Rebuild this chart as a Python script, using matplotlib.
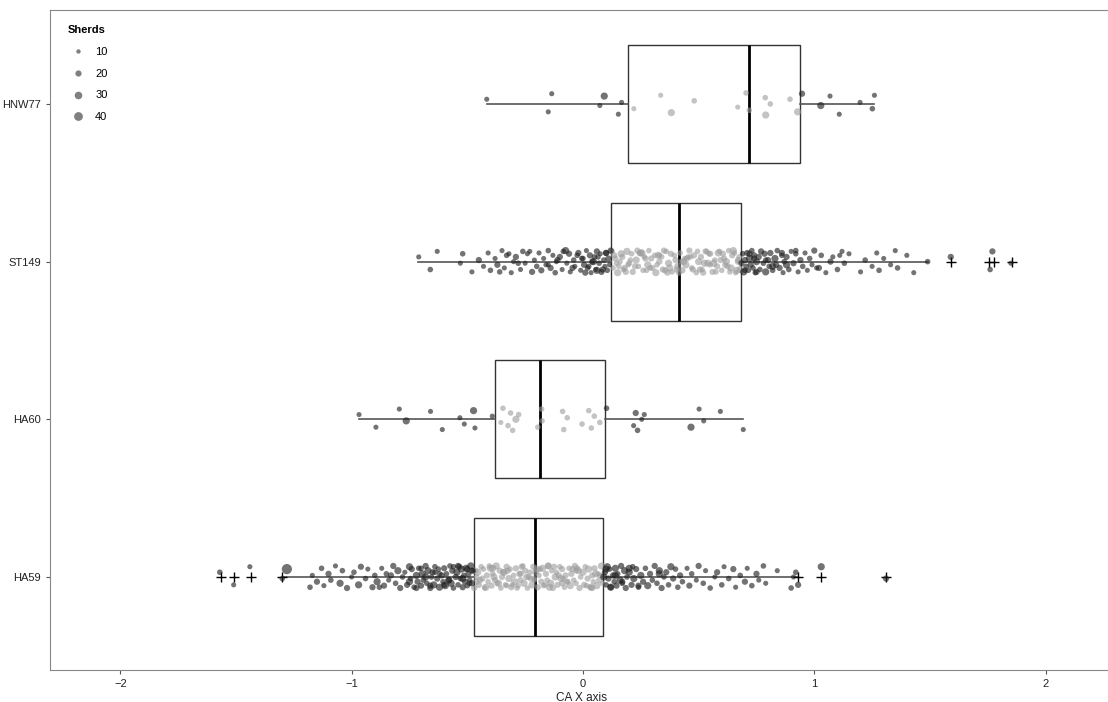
import numpy as np
import matplotlib.pyplot as plt
from matplotlib.lines import Line2D

plt.rcParams['font.family'] = ['Liberation Sans', 'DejaVu Sans']

# Sites (bottom to top)
sites = ['HA59', 'HA60', 'ST149', 'HNW77']

# Box statistics (CA X axis)
q1 = [-0.471, -0.380, 0.121, 0.195]
med = [-0.208, -0.186, 0.415, 0.718]
q3 = [0.086, 0.095, 0.683, 0.938]
whislo = [-1.295, -0.968, -0.713, -0.415]
whishi = [0.925, 0.692, 1.492, 1.258]
fliers = [[-1.565, -1.51, -1.435, -1.30, 0.93, 1.03, 1.31],
          [],
          [1.59, 1.755, 1.775, 1.855],
          []]

# Jittered observations: CA X value and number of sherds
hnw77_x = [-0.416, -0.15, -0.135, 0.073, 0.092, 0.153, 0.167, 0.220, 0.336, 0.382,
           0.481, 0.669, 0.705, 0.719, 0.788, 0.79, 0.810, 0.895, 0.928, 0.947,
           1.028, 1.068, 1.108, 1.198, 1.251, 1.260]
hnw77_n = [10, 10, 10, 10, 20, 10, 10, 10, 10, 20,
           12, 10, 12, 12, 12, 20, 12, 12, 20, 15,
           20, 10, 10, 10, 12, 10]

ha60_x = [-0.968, -0.895, -0.794, -0.764, -0.659, -0.608, -0.532, -0.513, -0.473, -0.467,
          -0.392, -0.355, -0.346, -0.324, -0.313, -0.304, -0.290, -0.278, -0.195, -0.179,
          -0.177, -0.088, -0.083, -0.068, -0.004, 0.025, 0.036, 0.049, 0.073, 0.102,
          0.219, 0.228, 0.236, 0.254, 0.265, 0.467, 0.502, 0.522, 0.594, 0.693]
ha60_n = [10, 10, 10, 20, 10, 10, 10, 10, 20, 10,
          10, 10, 12, 12, 12, 12, 20, 12, 12, 12,
          12, 12, 12, 12, 12, 12, 12, 12, 12, 12,
          10, 15, 12, 10, 10, 20, 10, 10, 10, 10]

st149_x = [-0.71, -0.66, -0.63, -0.53, -0.52, -0.48, -0.45, -0.43, -0.41, -0.40,
           -0.38, -0.37, -0.35, -0.34, -0.33, -0.31, -0.30, -0.29, -0.27, -0.26,
           -0.25, -0.24, -0.22, -0.21, -0.20, -0.19, -0.18, -0.17, -0.16, -0.15,
           -0.14, -0.13, -0.12, -0.115, -0.10, -0.09, -0.085, -0.07, -0.06, -0.055,
           -0.04, -0.035, -0.02, -0.01, 0.0, 0.005, 0.015, 0.02, 0.03, 0.035,
           0.04, 0.05, 0.055, 0.06, 0.07, 0.075, 0.08, 0.09, 0.095, 0.10,
           0.105, 0.11, 0.115, -0.075, -0.045, -0.025, 0.01, 0.045, 0.065, 0.085,
           -0.23, -0.28, -0.32, -0.36, -0.11, 0.025, 0.1, 0.06, -0.005, -0.15,
           0.12, 0.13, 0.135, 0.15, 0.16, 0.17, 0.175, 0.19, 0.20, 0.21,
           0.215, 0.23, 0.24, 0.245, 0.26, 0.27, 0.28, 0.285, 0.30, 0.31,
           0.315, 0.33, 0.34, 0.345, 0.36, 0.37, 0.38, 0.385, 0.40, 0.41,
           0.42, 0.43, 0.44, 0.445, 0.46, 0.47, 0.48, 0.49, 0.50, 0.51,
           0.515, 0.53, 0.54, 0.545, 0.56, 0.57, 0.58, 0.585, 0.60, 0.61,
           0.615, 0.63, 0.64, 0.645, 0.66, 0.67, 0.675, 0.68, 0.125, 0.145,
           0.165, 0.185, 0.205, 0.225, 0.255, 0.275, 0.295, 0.32, 0.35, 0.375,
           0.395, 0.415, 0.435, 0.455, 0.475, 0.495, 0.525, 0.55, 0.575, 0.595,
           0.625, 0.655, 0.665, 0.14, 0.195, 0.235, 0.29, 0.325, 0.365, 0.425,
           0.465, 0.505, 0.535, 0.565, 0.605, 0.635, 0.67, 0.155, 0.25, 0.355,
           0.45, 0.55, 0.65, 0.18, 0.33, 0.52, 0.62, 0.265, 0.405, 0.59,
           0.685, 0.69, 0.695, 0.70, 0.705, 0.71, 0.715, 0.72, 0.725, 0.73,
           0.735, 0.74, 0.745, 0.75, 0.76, 0.765, 0.77, 0.78, 0.785, 0.79,
           0.80, 0.805, 0.81, 0.82, 0.83, 0.835, 0.84, 0.85, 0.86, 0.865,
           0.87, 0.88, 0.89, 0.90, 0.91, 0.92, 0.93, 0.94, 0.95, 0.96,
           0.97, 0.98, 0.99, 1.00, 1.01, 1.03, 1.05, 1.07, 1.08, 1.10,
           1.12, 1.13, 1.15, 1.20, 1.22, 1.25, 1.27, 1.28, 1.30, 1.33,
           1.35, 1.36, 1.40, 1.43, 1.49, 1.59, 1.76, 1.77, 1.85, 0.72,
           0.75, 0.79, 0.82, 0.86, 0.70, 0.74, 0.88, 0.92, 1.02, 1.11]
st149_n = [10, 12, 10, 10, 12, 10, 15, 10, 10, 12,
           10, 15, 10, 10, 12, 10, 10, 15, 10, 12,
           10, 10, 15, 10, 12, 10, 15, 10, 10, 12,
           15, 10, 12, 10, 15, 10, 12, 10, 15, 10,
           12, 10, 15, 10, 12, 15, 10, 12, 15, 10,
           15, 12, 10, 15, 12, 10, 15, 12, 10, 15,
           12, 15, 10, 20, 15, 12, 15, 20, 12, 15,
           10, 12, 10, 12, 15, 12, 15, 20, 12, 10,
           15, 12, 15, 20, 12, 15, 12, 20, 15, 12,
           15, 20, 12, 15, 12, 15, 20, 12, 15, 12,
           20, 15, 12, 15, 12, 20, 15, 12, 15, 20,
           12, 15, 12, 20, 15, 12, 15, 12, 20, 15,
           12, 15, 20, 12, 15, 12, 15, 20, 12, 15,
           15, 12, 20, 15, 12, 15, 12, 20, 15, 12,
           20, 15, 12, 15, 20, 12, 15, 12, 15, 20,
           12, 15, 20, 12, 15, 12, 20, 15, 12, 15,
           15, 12, 20, 15, 12, 15, 12, 20, 15, 12,
           12, 15, 12, 20, 15, 12, 15, 12, 20, 15,
           15, 12, 20, 15, 12, 15, 20, 12, 15, 12,
           15, 12, 20, 15, 12, 15, 12, 20, 15, 12,
           12, 15, 12, 20, 15, 12, 15, 12, 15, 20,
           15, 12, 15, 12, 20, 15, 12, 15, 12, 10,
           12, 15, 12, 10, 15, 12, 10, 15, 12, 10,
           10, 12, 10, 15, 10, 12, 10, 15, 10, 12,
           10, 12, 10, 10, 12, 10, 10, 12, 10, 10,
           10, 12, 10, 10, 12, 15, 12, 15, 10, 15,
           15, 12, 20, 15, 12, 15, 20, 12, 15, 10]

ha59_x = [-1.57, -1.51, -1.44, -1.30, -1.28, -1.18, -1.17, -1.15, -1.13, -1.12,
          -1.10, -1.09, -1.07, -1.05, -1.04, -1.02, -1.00, -0.99, -0.97, -0.96,
          -0.94, -0.93, -0.91, -0.90, -0.89, -0.87, -0.86, -0.85, -0.84, -0.82,
          -0.81, -0.80, -0.79, -0.78, -0.77, -0.76, -0.75, -0.745, -0.74, -0.73,
          -0.72, -0.715, -0.71, -0.70, -0.695, -0.69, -0.68, -0.675, -0.67, -0.66,
          -0.655, -0.65, -0.645, -0.64, -0.63, -0.625, -0.62, -0.61, -0.605, -0.60,
          -0.595, -0.59, -0.58, -0.575, -0.57, -0.565, -0.56, -0.55, -0.545, -0.54,
          -0.535, -0.53, -0.525, -0.52, -0.515, -0.51, -0.505, -0.50, -0.495, -0.49,
          -0.485, -0.48, -0.475, -0.72, -0.68, -0.64, -0.60, -0.56, -0.52, -0.50,
          -0.88, -0.83, -0.75, -0.70, -0.66, -0.62, -0.58, -0.54, -0.49, -0.48,
          -0.47, -0.46, -0.455, -0.45, -0.44, -0.435, -0.43, -0.42, -0.415, -0.41,
          -0.40, -0.395, -0.39, -0.38, -0.375, -0.37, -0.36, -0.355, -0.35, -0.34,
          -0.335, -0.33, -0.32, -0.315, -0.31, -0.30, -0.295, -0.29, -0.28, -0.275,
          -0.27, -0.26, -0.255, -0.25, -0.24, -0.235, -0.23, -0.22, -0.215, -0.21,
          -0.20, -0.195, -0.19, -0.18, -0.175, -0.17, -0.16, -0.155, -0.15, -0.14,
          -0.135, -0.13, -0.12, -0.115, -0.11, -0.10, -0.095, -0.09, -0.08, -0.075,
          -0.07, -0.06, -0.055, -0.05, -0.04, -0.035, -0.03, -0.02, -0.015, -0.01,
          0.0, 0.005, 0.01, 0.02, 0.025, 0.03, 0.04, 0.045, 0.05, 0.06,
          0.065, 0.07, 0.08, 0.085, -0.465, -0.425, -0.385, -0.345, -0.305, -0.265,
          -0.225, -0.185, -0.145, -0.105, -0.065, -0.025, 0.015, 0.055, -0.445, -0.405,
          -0.365, -0.325, -0.285, -0.245, -0.205, -0.165, -0.125, -0.085, -0.045, 0.035,
          0.075, -0.46, -0.39, -0.33, -0.27, -0.21, -0.15, -0.09, -0.03, 0.04,
          0.09, 0.095, 0.10, 0.105, 0.11, 0.115, 0.12, 0.13, 0.135, 0.14,
          0.145, 0.15, 0.16, 0.165, 0.17, 0.18, 0.185, 0.19, 0.20, 0.21,
          0.215, 0.22, 0.23, 0.24, 0.25, 0.26, 0.27, 0.28, 0.29, 0.30,
          0.31, 0.32, 0.33, 0.34, 0.35, 0.36, 0.37, 0.38, 0.39, 0.40,
          0.41, 0.42, 0.43, 0.45, 0.46, 0.47, 0.49, 0.50, 0.52, 0.53,
          0.55, 0.57, 0.58, 0.60, 0.61, 0.63, 0.65, 0.66, 0.68, 0.70,
          0.71, 0.73, 0.75, 0.76, 0.78, 0.79, 0.84, 0.90, 0.91, 0.92,
          0.93, 1.03, 1.31, 0.10, 0.12, 0.14, 0.17, 0.20, 0.24, 0.33]
ha59_n = [12, 10, 10, 12, 40, 12, 10, 15, 12, 10,
          15, 12, 10, 20, 12, 15, 10, 12, 20, 15,
          12, 10, 15, 12, 20, 10, 15, 12, 10, 15,
          12, 20, 15, 12, 10, 15, 20, 12, 15, 12,
          20, 15, 12, 15, 20, 12, 15, 12, 20, 15,
          12, 15, 20, 12, 15, 12, 20, 15, 12, 15,
          20, 12, 15, 12, 20, 15, 12, 15, 20, 12,
          15, 12, 20, 15, 12, 15, 20, 12, 15, 12,
          20, 15, 12, 15, 20, 12, 15, 12, 20, 15,
          12, 15, 20, 12, 15, 12, 20, 15, 12, 15,
          15, 12, 20, 15, 12, 15, 12, 20, 15, 12,
          20, 15, 12, 15, 20, 12, 15, 12, 15, 20,
          12, 15, 20, 12, 15, 12, 20, 15, 12, 15,
          15, 12, 20, 15, 12, 15, 12, 20, 15, 12,
          20, 15, 12, 15, 20, 12, 15, 12, 15, 20,
          12, 15, 20, 12, 15, 12, 20, 15, 12, 15,
          15, 12, 20, 15, 12, 15, 12, 20, 15, 12,
          20, 15, 12, 15, 20, 12, 15, 12, 15, 20,
          12, 15, 20, 12, 15, 12, 20, 15, 12, 15,
          15, 12, 20, 15, 12, 15, 12, 20, 15, 12,
          20, 15, 12, 15, 20, 12, 15, 12, 15, 20,
          12, 15, 20, 12, 15, 12, 20, 15, 12, 15,
          20, 15, 12, 20, 15, 12, 20, 15, 12, 20,
          15, 12, 20, 15, 12, 20, 15, 12, 20, 15,
          12, 20, 15, 12, 20, 15, 12, 20, 15, 12,
          15, 12, 20, 15, 12, 15, 12, 20, 15, 12,
          12, 15, 12, 10, 15, 12, 10, 15, 12, 10,
          12, 10, 15, 12, 10, 12, 15, 10, 12, 15,
          10, 12, 15, 10, 12, 10, 10, 12, 10, 12,
          15, 20, 15, 20, 15, 20, 15, 20, 15, 20]

points_x = [ha59_x, ha60_x, st149_x, hnw77_x]
points_n = [ha59_n, ha60_n, st149_n, hnw77_n]

legend_sizes = [10, 20, 30, 40]

# deterministic vertical jitter pattern
jitter = np.array([0.03, -0.05, 0.065, -0.01, 0.05, -0.065, 0.01, -0.03, 0.055,
                   -0.055, 0.02, -0.02, 0.07, -0.04, 0.04, -0.07, 0.0])
size_k = 1.35  # marker area (pt^2) per sherd

fig = plt.figure(figsize=(11.08, 7.02), dpi=100)
ax = fig.add_axes([50 / 1108, 32 / 702, 1062 / 1108, 660 / 702])

ypos = np.arange(1, len(sites) + 1)

stats = []
for i, s in enumerate(sites):
    stats.append(dict(label=s, q1=q1[i], med=med[i], q3=q3[i],
                      whislo=whislo[i], whishi=whishi[i], fliers=fliers[i]))

ax.bxp(stats, positions=ypos, widths=0.75, vert=False, showcaps=False,
       patch_artist=True,
       boxprops=dict(facecolor='none', edgecolor='#333333', linewidth=1.0),
       medianprops=dict(color='black', linewidth=2.0),
       whiskerprops=dict(color='#555555', linewidth=1.2),
       flierprops=dict(marker='+', markeredgecolor='black', markersize=7,
                       markeredgewidth=1.0, linestyle='none'),
       zorder=2)

for i in range(len(sites)):
    x = np.array(points_x[i])
    n = np.array(points_n[i])
    y = ypos[i] + np.resize(jitter, len(x))
    inside = (x >= q1[i]) & (x <= q3[i])
    ax.scatter(x[inside], y[inside], s=n[inside] * size_k, color='#9c9c9c',
               alpha=0.6, linewidths=0, zorder=3)
    ax.scatter(x[~inside], y[~inside], s=n[~inside] * size_k, color='#1e1e1e',
               alpha=0.62, linewidths=0, zorder=3)

ax.set_xlim(-2.304, 2.287)
ax.set_ylim(0.41, 4.596)
ax.set_xticks([-2, -1, 0, 1, 2])
ax.set_yticks(ypos)
ax.set_yticklabels(sites)
ax.tick_params(axis='both', labelsize=8, length=3, color='#555555',
               labelcolor='#222222')
for sp in ax.spines.values():
    sp.set_color('#888888')
    sp.set_linewidth(0.8)

ax.set_xlabel('CA X axis', fontsize=8.5, color='#222222', labelpad=2)

handles = [Line2D([], [], marker='o', linestyle='none', color='#808080',
                  markersize=np.sqrt(v), markeredgewidth=0) for v in legend_sizes]
leg = ax.legend(handles, [str(v) for v in legend_sizes], title='Sherds',
                loc='upper left', bbox_to_anchor=(0.008, 0.99), frameon=False,
                fontsize=8, title_fontproperties={'weight': 'bold', 'size': 8},
                handletextpad=0.5, labelspacing=1.05, borderpad=0.3)
leg._legend_box.align = 'left'

fig.savefig('out.png', dpi=100)
